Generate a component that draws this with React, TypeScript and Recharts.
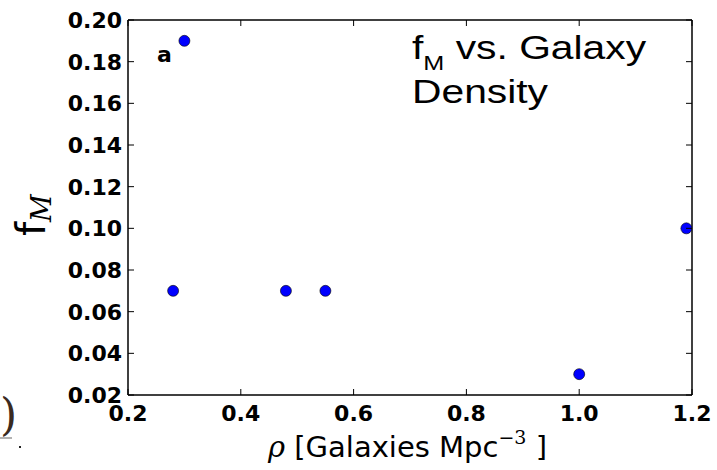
// f_M 대 은하 밀도 산점도
import { Scatter, ScatterChart, XAxis, YAxis } from "recharts";

// 점 데이터 (rho, f_M)
const RHO = [0.28, 0.3, 0.48, 0.55, 1.0, 1.19];
const FM = [0.07, 0.19, 0.07, 0.07, 0.03, 0.1];

// 눈금
const X_TICKS = [0.2, 0.4, 0.6, 0.8, 1.0, 1.2];
const Y_TICKS = [0.02, 0.04, 0.06, 0.08, 0.1, 0.12, 0.14, 0.16, 0.18, 0.2];

const points = RHO.map((x, i) => ({ x, y: FM[i] }));

const TICK_FONT = "'DejaVu Sans', sans-serif";
const TITLE_FONT = "'Liberation Sans', Arial, sans-serif";
const TICK_LEN = 6;

// 안쪽으로 향하는 눈금 + 라벨
function BottomTick(props: any) {
  const { x, y, payload } = props;
  return (
    <g>
      <line x1={x} y1={y} x2={x} y2={y - TICK_LEN} stroke="#000" strokeWidth={1} />
      <text x={x} y={y + 26} textAnchor="middle" fontFamily={TICK_FONT} fontWeight="bold" fontSize={22} fill="#000">
        {Number(payload.value).toFixed(1)}
      </text>
    </g>
  );
}

function LeftTick(props: any) {
  const { x, y, payload } = props;
  return (
    <g>
      <line x1={x} y1={y} x2={x + TICK_LEN} y2={y} stroke="#000" strokeWidth={1} />
      <text x={x - 6} y={y + 8} textAnchor="end" fontFamily={TICK_FONT} fontWeight="bold" fontSize={22} fill="#000">
        {Number(payload.value).toFixed(2)}
      </text>
    </g>
  );
}

function TopTick(props: any) {
  const { x, y } = props;
  return <line x1={x} y1={y} x2={x} y2={y + TICK_LEN} stroke="#000" strokeWidth={1} />;
}

function RightTick(props: any) {
  const { x, y } = props;
  return <line x1={x} y1={y} x2={x - TICK_LEN} y2={y} stroke="#000" strokeWidth={1} />;
}

function Dot(props: any) {
  const { cx, cy } = props;
  return <circle cx={cx} cy={cy} r={5.5} fill="#0000ff" stroke="#000" strokeWidth={0.6} />;
}

// 보조 축(위/오른쪽)을 살리기 위한 보이지 않는 계열
function NoDot() {
  return <g />;
}

export default function App() {
  const axisLine = { stroke: "#000", strokeWidth: 1.5 };
  return (
    <div style={{ position: "absolute", left: 0, top: 0, background: "#fff" }}>
      <ScatterChart width={717} height={470} margin={{ top: 19, right: 24, bottom: 0, left: 0 }}>
        <XAxis
          xAxisId="b"
          dataKey="x"
          type="number"
          domain={[0.2, 1.2]}
          ticks={X_TICKS}
          allowDataOverflow
          height={75}
          tickSize={0}
          tickMargin={0}
          tickLine={false}
          axisLine={axisLine}
          tick={<BottomTick />}
          interval={0}
          label={{
            content: () => (
              <g>
                <text x={268} y={457} fontSize={29} fill="#000" fontFamily={TICK_FONT}>
                  <tspan fontFamily="'DejaVu Serif', serif" fontStyle="italic">ρ</tspan>
                  <tspan> [Galaxies Mpc</tspan>
                  <tspan fontFamily="'DejaVu Serif', serif" fontSize={19} dy={-13}>−3</tspan>
                  <tspan dy={13}> ]</tspan>
                </text>
                <text x={0} y={430} fontSize={44} fontFamily="'DejaVu Serif', serif" fill="#3a2a20">)</text>
                <line x1={0} y1={438} x2={12} y2={438} stroke="#999" strokeWidth={1.5} />
                <rect x={19} y={446} width={2} height={2} fill="#222" />
              </g>
            ),
          }}
        />
        <XAxis
          xAxisId="t"
          dataKey="x"
          type="number"
          orientation="top"
          domain={[0.2, 1.2]}
          ticks={X_TICKS}
          allowDataOverflow
          height={1}
          tickSize={0}
          tickMargin={0}
          tickLine={false}
          axisLine={axisLine}
          tick={<TopTick />}
          interval={0}
          label={{
            content: () => (
              <g>
                {/* 원본 제목은 가로로 늘어난 모양 */}
                <g transform="translate(412 0) scale(1.2 1)">
                  <text x={0} y={59} fontSize={34} fill="#000" fontFamily={TITLE_FONT}>
                    f<tspan fontSize={21} dy={11}>M</tspan>
                    <tspan dy={-11}> vs. Galaxy</tspan>
                  </text>
                  <text x={0} y={103} fontSize={34} fill="#000" fontFamily={TITLE_FONT}>
                    Density
                  </text>
                </g>
                <text x={157} y={62} fontSize={22} fontWeight="bold" fill="#000" fontFamily={TICK_FONT}>
                  a
                </text>
              </g>
            ),
          }}
        />
        <YAxis
          yAxisId="l"
          dataKey="y"
          type="number"
          domain={[0.02, 0.2]}
          ticks={Y_TICKS}
          allowDataOverflow
          width={128}
          tickSize={0}
          tickMargin={0}
          tickLine={false}
          axisLine={axisLine}
          tick={<LeftTick />}
          interval={0}
          label={{
            content: () => (
              <text transform="translate(45,236) rotate(-90)" fontSize={40} fill="#000" fontFamily={TICK_FONT}>
                f
                <tspan fontFamily="'DejaVu Serif', serif" fontStyle="italic" fontSize={27} dy={6}>M</tspan>
              </text>
            ),
          }}
        />
        <YAxis
          yAxisId="r"
          dataKey="y"
          type="number"
          orientation="right"
          domain={[0.02, 0.2]}
          ticks={Y_TICKS}
          allowDataOverflow
          width={1}
          tickSize={0}
          tickMargin={0}
          tickLine={false}
          axisLine={axisLine}
          tick={<RightTick />}
          interval={0}
        />
        <Scatter data={points} xAxisId="b" yAxisId="l" shape={<Dot />} isAnimationActive={false} />
        <Scatter data={points} xAxisId="t" yAxisId="r" shape={<NoDot />} isAnimationActive={false} />
      </ScatterChart>
    </div>
  );
}
